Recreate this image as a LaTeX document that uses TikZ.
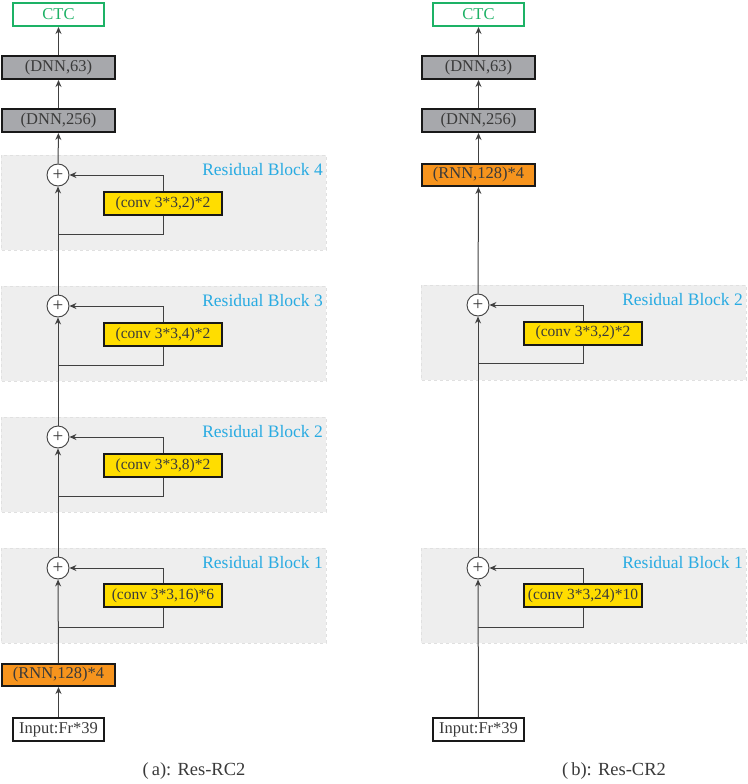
\documentclass[tikz,border=0pt]{standalone}
\usepackage{fontspec}
\setmainfont{Liberation Serif}
\usetikzlibrary{arrows.meta}
\definecolor{textgray}{HTML}{3A3A3A}
\definecolor{dnngray}{HTML}{A7A8AC}
\definecolor{rnnorange}{HTML}{F7941D}
\definecolor{convyellow}{HTML}{FFDD00}
\definecolor{ctcgreen}{HTML}{1DB266}
\definecolor{lblblue}{HTML}{29ABE2}
\definecolor{bggray}{HTML}{EEEEEE}
\definecolor{linegray}{HTML}{404040}
\tikzset{
  boxbase/.style={draw=black!90, line width=2pt, inner sep=0pt, text=textgray,
    font=\fontsize{16.5}{19}\selectfont},
  dnnbox/.style={boxbase, fill=dnngray, minimum width=113pt, minimum height=23pt},
  rnnbox/.style={boxbase, fill=rnnorange, minimum width=113pt, minimum height=22pt},
  convbox/.style={boxbase, fill=convyellow, minimum width=118pt, minimum height=23pt,
    font=\fontsize{15.5}{18}\selectfont},
  inbox/.style={boxbase, fill=white, minimum width=91pt, minimum height=23pt},
  ctcbox/.style={draw=ctcgreen, line width=2pt, fill=white, inner sep=0pt,
    text=ctcgreen, minimum width=91pt, minimum height=23pt, font=\fontsize{16.5}{19}\selectfont},
  sumnode/.style={circle, draw=linegray, line width=0.9pt, fill=white, minimum size=22pt,
    inner sep=0pt, text=textgray, font=\fontsize{19}{20}\selectfont},
  blockbg/.style={fill=bggray, draw=black!12, dashed, line width=0.6pt},
  blocklbl/.style={anchor=east, text=lblblue, inner sep=0pt, font=\fontsize{17.5}{20}\selectfont},
  caplbl/.style={text=textgray, inner sep=0pt, font=\fontsize{18.5}{21}\selectfont},
  arr/.style={draw=linegray, line width=1pt, -{Stealth[length=7pt,width=6pt]}},
  ln/.style={draw=linegray, line width=1pt}
}
\begin{document}
\begin{tikzpicture}[x=1pt,y=-1pt]
\useasboundingbox (0,0) rectangle (747,784);
% ---------- (a) ----------
\draw[blockbg] (1,155) rectangle (326,250);
\draw[blockbg] (1,286) rectangle (326,381);
\draw[blockbg] (1,417) rectangle (326,512);
\draw[blockbg] (1,548) rectangle (326,643);
\node[blocklbl] (l4a) at (323,170) {Residual Block 4};
\node[blocklbl] (l3a) at (323,301) {Residual Block 3};
\node[blocklbl] (l2a) at (323,432) {Residual Block 2};
\node[blocklbl] (l1a) at (323,563) {Residual Block 1};

\node[ctcbox] (ctcA) at (58.5,14.5) {CTC};
\node[dnnbox] (d63A) at (58.5,67.5) {(DNN,63)};
\node[dnnbox] (d256A) at (58.5,120.5) {(DNN,256)};
\node[sumnode] (s4A) at (58,175) {+};
\node[sumnode] (s3A) at (58,306) {+};
\node[sumnode] (s2A) at (58,437) {+};
\node[sumnode] (s1A) at (58,568) {+};
\node[convbox] (c4A) at (163,203.5) {(conv 3*3,2)*2};
\node[convbox] (c3A) at (163,334.5) {(conv 3*3,4)*2};
\node[convbox] (c2A) at (163,465.5) {(conv 3*3,8)*2};
\node[convbox] (c1A) at (163,595.5) {(conv 3*3,16)*6};
\node[rnnbox] (rA) at (58.5,675) {(RNN,128)*4};
\node[inbox] (inA) at (58.5,729.5) {Input:Fr*39};
\node[caplbl] (capA) at (194,771) {(\,a): Res-RC2};
\coordinate (j4A) at (58,234);
\coordinate (j3A) at (58,365);
\coordinate (j2A) at (58,496);
\coordinate (j1A) at (58,627);

\draw[arr] (inA) -- (rA);
\draw[arr] (rA) -- (s1A);
\draw[arr] (s1A) -- (s2A);
\draw[arr] (s2A) -- (s3A);
\draw[arr] (s3A) -- (s4A);
\draw[arr] (s4A) -- (d256A);
\draw[arr] (d256A) -- (d63A);
\draw[arr] (d63A) -- (ctcA);
\foreach \k in {1,2,3,4}{
  \draw[arr] (c\k A.north) |- (s\k A.east);
  \draw[ln] (c\k A.south) |- (j\k A);
}

% ---------- (b) ----------
\draw[blockbg] (421,285) rectangle (746,380);
\draw[blockbg] (421,548) rectangle (746,643);
\node[blocklbl] (l2b) at (743,300) {Residual Block 2};
\node[blocklbl] (l1b) at (743,563) {Residual Block 1};

\node[ctcbox] (ctcB) at (478.5,14.5) {CTC};
\node[dnnbox] (d63B) at (478.5,67.5) {(DNN,63)};
\node[dnnbox] (d256B) at (478.5,120.5) {(DNN,256)};
\node[rnnbox] (rB) at (478.5,175) {(RNN,128)*4};
\node[sumnode] (s2B) at (478,305) {+};
\node[sumnode] (s1B) at (478,568) {+};
\node[convbox] (c2B) at (583,333) {(conv 3*3,2)*2};
\node[convbox] (c1B) at (583,595.5) {(conv 3*3,24)*10};
\node[inbox] (inB) at (478.5,729.5) {Input:Fr*39};
\node[caplbl] (capB) at (614,771) {(\,b): Res-CR2};
\coordinate (j2B) at (478,363);
\coordinate (j1B) at (478,627);

\draw[arr] (inB) -- (s1B);
\draw[arr] (s1B) -- (s2B);
\draw[arr] (s2B) -- (rB);
\draw[arr] (rB) -- (d256B);
\draw[arr] (d256B) -- (d63B);
\draw[arr] (d63B) -- (ctcB);
\foreach \k in {1,2}{
  \draw[arr] (c\k B.north) |- (s\k B.east);
  \draw[ln] (c\k B.south) |- (j\k B);
}
\end{tikzpicture}
\end{document}
